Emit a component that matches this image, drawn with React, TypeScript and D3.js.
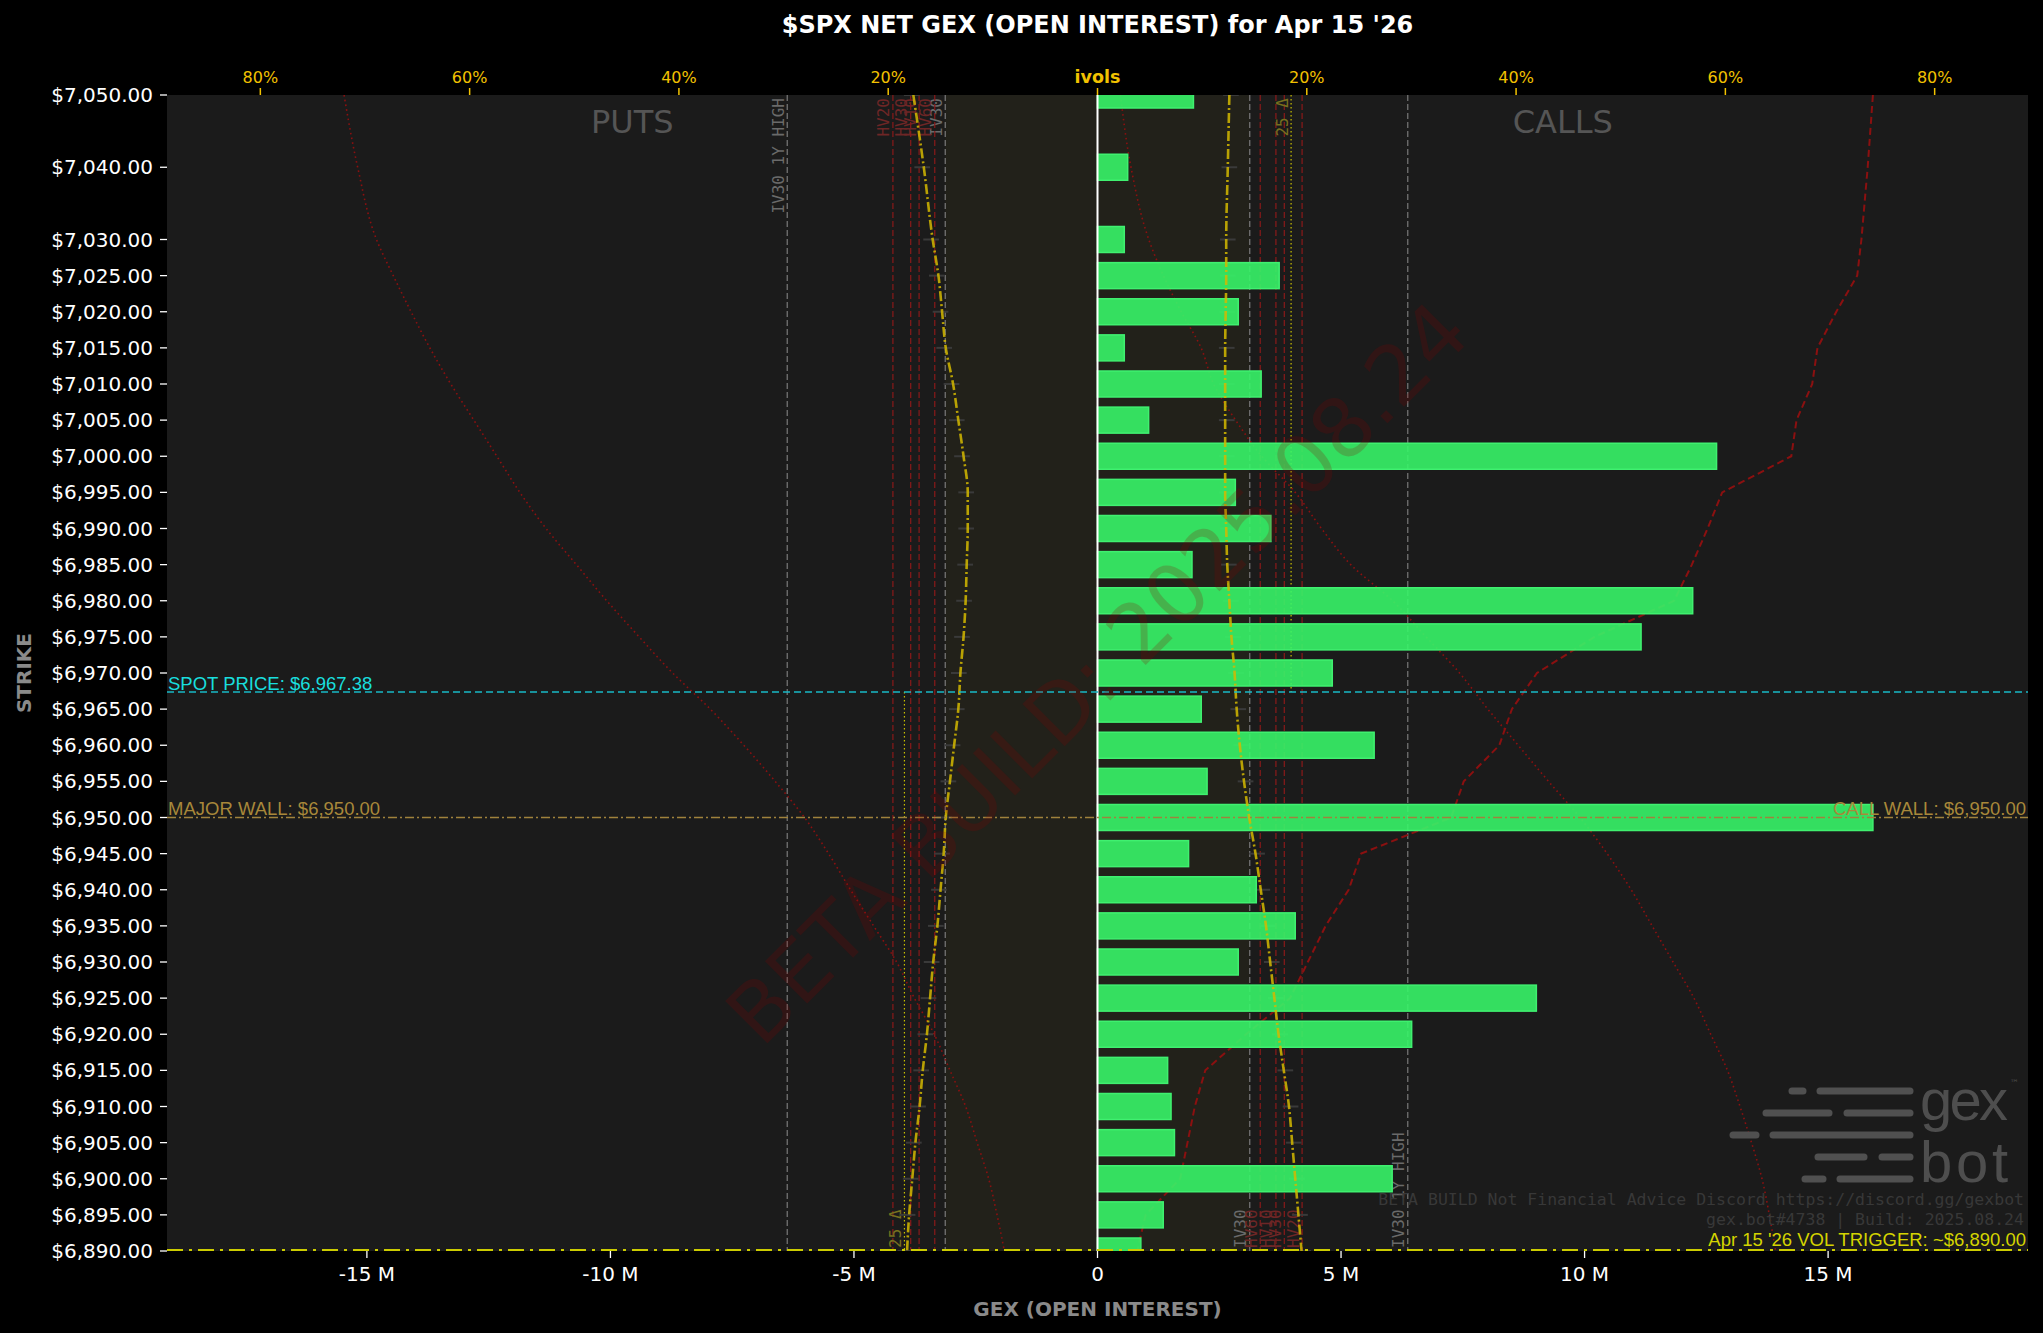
import React, { useEffect, useRef } from "react";
import * as d3 from "d3";

// strikes that carry open interest (7045 / 7035 have none)
const strikes = [
  7050, 7040, 7030, 7025, 7020, 7015, 7010, 7005, 7000, 6995, 6990, 6985, 6980, 6975, 6970, 6965,
  6960, 6955, 6950, 6945, 6940, 6935, 6930, 6925, 6920, 6915, 6910, 6905, 6900, 6895, 6890,
];
// net GEX per strike, millions
const netGex = [
  1.97, 0.62, 0.55, 3.73, 2.89, 0.55, 3.36, 1.05, 12.71, 2.83, 3.56, 1.94, 12.22, 11.16, 4.82, 2.13,
  5.68, 2.25, 15.92, 1.87, 3.26, 4.06, 2.89, 9.01, 6.45, 1.44, 1.51, 1.58, 6.05, 1.35, 0.89,
];
// implied vols (%) per strike
const putIvols = [
  17.6, 16.6, 15.75, 15.2, 14.85, 14.5, 13.8, 13.3, 12.8, 12.4, 12.4, 12.5, 12.6, 12.8, 13.1, 13.3,
  13.7, 14.1, 14.5, 14.7, 15.0, 15.3, 15.7, 16.0, 16.3, 16.7, 17.0, 17.4, 17.7, 18.0, 18.2,
];
const callIvols = [
  12.6, 12.45, 12.3, 12.3, 12.25, 12.2, 12.2, 12.2, 12.2, 12.2, 12.3, 12.4, 12.6, 12.8, 13.1, 13.3,
  13.6, 14.0, 14.5, 15.1, 15.6, 16.1, 16.5, 16.9, 17.3, 17.8, 18.3, 18.6, 18.9, 19.2, 19.5,
];
const putSkew = [
  72.0, 70.7, 68.9, 67.3, 65.6, 63.8, 61.8, 59.6, 57.4, 55.2, 52.7, 49.8, 46.9, 43.8, 40.6, 37.0,
  33.8, 30.8, 28.0, 25.7, 23.6, 21.4, 19.2, 17.5, 15.6, 14.1, 12.6, 11.5, 10.4, 9.6, 8.9,
];
const callSkew = [
  2.2, 3.2, 4.9, 6.3, 8.0, 9.9, 11.1, 13.2, 15.7, 18.9, 21.4, 24.2, 28.2, 31.4, 34.6, 37.3,
  40.2, 43.1, 46.1, 48.7, 51.0, 53.0, 55.0, 57.0, 58.6, 60.2, 61.4, 62.5, 63.5, 64.2, 64.8,
];
const callTerm = [
  74.1, 73.6, 73.0, 72.6, 70.6, 68.8, 68.3, 66.8, 66.3, 59.7, 58.3, 56.8, 55.1, 47.5, 42.0, 39.6,
  38.4, 35.0, 33.8, 25.2, 24.0, 21.8, 20.1, 18.4, 14.2, 10.3, 9.3, 8.6, 7.9, 4.6, 3.8,
];

const refNames = ["IV30", "HV60", "HV10", "HV30", "HV20", "IV30 1Y HIGH"];
const refVols = [14.55, 15.55, 17.05, 17.85, 19.55, 29.65];
const put25Delta = 18.45;
const call25Delta = 18.5;

const spotPrice = 6967.38;
const majorWall = 6950;
const callWall = 6950;
const volTrigger = 6890;

const gexTicks = [-15, -10, -5, 0, 5, 10, 15];
const ivolTicks = [-80, -60, -40, -20, 0, 20, 40, 60, 80];

const W = 2043;
const H = 1333;
const FONT = "'DejaVu Sans', sans-serif";
const MONO = "'DejaVu Sans Mono', monospace";
const LIB = "'Liberation Sans', Arial, sans-serif";

const money = (n: number) => "$" + d3.format(",.2f")(n);

const App = () => {
  const ref = useRef<SVGSVGElement>(null);

  useEffect(() => {
    const svg = d3.select(ref.current);
    svg.selectAll("*").remove();

    const left = 167, right = 2028, top = 95, bottom = 1251;
    const gexMax = 1.2 * (d3.max(netGex, (d) => Math.abs(d)) as number);
    const volMax = 1.2 * (d3.max([...putIvols, ...callIvols, ...putSkew, ...callSkew, ...callTerm]) as number);

    const x = d3.scaleLinear().domain([-gexMax, gexMax]).range([left, right]);
    const v = d3.scaleLinear().domain([-volMax, volMax]).range([left, right]);
    const y = d3.scaleLinear().domain(d3.extent(strikes) as [number, number]).range([bottom, top]);

    svg.append("rect").attr("width", W).attr("height", H).attr("fill", "#000");

    svg.append("defs").append("clipPath").attr("id", "plot")
      .append("rect").attr("x", left).attr("y", top).attr("width", right - left).attr("height", bottom - top);

    const plot = svg.append("g").attr("clip-path", "url(#plot)");
    plot.append("rect").attr("x", left).attr("y", top).attr("width", right - left).attr("height", bottom - top)
      .attr("fill", "#1b1b1b");

    // IV30 band
    plot.append("rect")
      .attr("x", v(-refVols[0])).attr("y", top)
      .attr("width", v(refVols[0]) - v(-refVols[0])).attr("height", bottom - top)
      .attr("fill", "#ffd700").attr("opacity", 0.03);

    // reference vol lines
    refNames.forEach((name, i) => {
      const isHv = name.startsWith("HV");
      const col = isHv ? "#8b1a1a" : "#7a7a7a";
      const txt = isHv ? "#6e2626" : "#6a6a6a";
      [-1, 1].forEach((side) => {
        const xx = v(side * refVols[i]);
        plot.append("line").attr("x1", xx).attr("x2", xx).attr("y1", top).attr("y2", bottom)
          .attr("stroke", col).attr("stroke-width", 1.2).attr("stroke-dasharray", "6,3");
        const ty = side < 0 ? top + 3 : bottom - 3;
        plot.append("text")
          .attr("transform", `translate(${xx - 3.5},${ty}) rotate(-90)`)
          .attr("text-anchor", side < 0 ? "end" : "start")
          .attr("font-family", MONO).attr("font-size", 16).attr("fill", txt)
          .text(name);
      });
    });

    // 25 delta lines
    const xp = v(-put25Delta), xc = v(call25Delta);
    plot.append("line").attr("x1", xp).attr("x2", xp).attr("y1", y(spotPrice)).attr("y2", bottom)
      .attr("stroke", "#c8c000").attr("stroke-width", 1.2).attr("stroke-dasharray", "1.5,2.5");
    plot.append("line").attr("x1", xc).attr("x2", xc).attr("y1", top).attr("y2", y(spotPrice))
      .attr("stroke", "#c8c000").attr("stroke-width", 1.2).attr("stroke-dasharray", "1.5,2.5");
    plot.append("text").attr("transform", `translate(${xp - 3.5},${bottom - 3}) rotate(-90)`)
      .attr("font-family", MONO).attr("font-size", 16).attr("fill", "#76701e").text("25 Δ");
    plot.append("text").attr("transform", `translate(${xc - 3.5},${top + 3}) rotate(-90)`)
      .attr("text-anchor", "end").attr("font-family", MONO).attr("font-size", 16).attr("fill", "#76701e").text("25 Δ");

    // red skew curves
    const idx = d3.range(strikes.length);
    const curve = (vals: number[], side: number) =>
      d3.line<number>().x((i) => v(side * vals[i])).y((i) => y(strikes[i])).curve(d3.curveMonotoneY)(idx);
    plot.append("path").attr("d", curve(putSkew, -1)).attr("fill", "none")
      .attr("stroke", "#8b1010").attr("stroke-width", 1.6).attr("stroke-dasharray", "1.6,3.2");
    plot.append("path").attr("d", curve(callSkew, 1)).attr("fill", "none")
      .attr("stroke", "#8b1010").attr("stroke-width", 1.6).attr("stroke-dasharray", "1.6,3.2");
    plot.append("path")
      .attr("d", d3.line<number>().x((i) => v(callTerm[i])).y((i) => y(strikes[i]))(idx))
      .attr("fill", "none").attr("stroke", "#8b1010").attr("stroke-width", 2).attr("stroke-dasharray", "7,4");

    // ivol bid/ask ticks (behind the bars)
    const ivolSides = [
      { vals: putIvols, side: -1 },
      { vals: callIvols, side: 1 },
    ];
    ivolSides.forEach(({ vals, side }) => {
      plot.selectAll(null).data(idx).enter().append("line")
        .attr("x1", (i) => v(side * (vals[i] - 0.6))).attr("x2", (i) => v(side * (vals[i] + 0.9)))
        .attr("y1", (i) => y(strikes[i])).attr("y2", (i) => y(strikes[i]))
        .attr("stroke", "#3a3a3a").attr("stroke-width", 2);
    });

    // bars
    const barH = Math.abs(y(0) - y(3.6));
    plot.selectAll("rect.bar").data(idx).enter().append("rect")
      .attr("class", "bar")
      .attr("x", (i) => Math.min(x(0), x(netGex[i])))
      .attr("y", (i) => y(strikes[i]) - barH / 2)
      .attr("width", (i) => Math.abs(x(netGex[i]) - x(0)))
      .attr("height", barH)
      .attr("fill", "#37f468").attr("fill-opacity", 0.9)
      .attr("stroke", "#40f070").attr("stroke-width", 1.5);

    // ivol curves
    ivolSides.forEach(({ vals, side }) => {
      plot.append("path").attr("d", curve(vals, side)).attr("fill", "none")
        .attr("stroke", "#d4b800").attr("stroke-opacity", 0.85)
        .attr("stroke-width", 2.6).attr("stroke-dasharray", "10,3,2,3");
    });

    // zero line
    plot.append("line").attr("x1", x(0)).attr("x2", x(0)).attr("y1", top).attr("y2", bottom)
      .attr("stroke", "#fff").attr("stroke-width", 2);

    // horizontal levels
    plot.append("line").attr("x1", left).attr("x2", right).attr("y1", y(spotPrice)).attr("y2", y(spotPrice))
      .attr("stroke", "#19b9c6").attr("stroke-width", 1.6).attr("stroke-dasharray", "7,4");
    plot.append("line").attr("x1", left).attr("x2", right).attr("y1", y(majorWall)).attr("y2", y(majorWall))
      .attr("stroke", "#a0823c").attr("stroke-width", 1.6).attr("stroke-dasharray", "9,3,2,3");
    plot.append("line").attr("x1", left).attr("x2", right).attr("y1", y(volTrigger)).attr("y2", y(volTrigger))
      .attr("stroke", "#cccc00").attr("stroke-width", 4).attr("stroke-dasharray", "16,6,3,6");

    plot.append("text").attr("x", left + 1).attr("y", y(spotPrice) - 2)
      .attr("font-family", LIB).attr("font-size", 18.5).attr("fill", "#19dede")
      .text(`SPOT PRICE: ${money(spotPrice)}`);
    plot.append("text").attr("x", left + 1).attr("y", y(majorWall) - 3)
      .attr("font-family", LIB).attr("font-size", 18.5).attr("fill", "#a8883a")
      .text(`MAJOR WALL: ${money(majorWall)}`);
    plot.append("text").attr("x", right - 2).attr("y", y(callWall) - 3).attr("text-anchor", "end")
      .attr("font-family", LIB).attr("font-size", 18.5).attr("fill", "#a8883a")
      .text(`CALL WALL: ${money(callWall)}`);

    // PUTS / CALLS
    plot.append("text").attr("x", left + (right - left) * 0.25).attr("y", top + 38).attr("text-anchor", "middle")
      .attr("font-family", FONT).attr("font-size", 32).attr("fill", "#555").text("PUTS");
    plot.append("text").attr("x", left + (right - left) * 0.75).attr("y", top + 38).attr("text-anchor", "middle")
      .attr("font-family", FONT).attr("font-size", 32).attr("fill", "#555").text("CALLS");

    // logo
    const logo = plot.append("g").attr("stroke", "#505050").attr("stroke-width", 7).attr("stroke-linecap", "round");
    [
      [1091, 1792, 1803], [1091, 1820, 1910],
      [1113, 1766, 1829], [1113, 1847, 1910],
      [1135, 1733, 1756], [1135, 1773, 1910],
      [1157, 1818, 1864], [1157, 1882, 1910],
      [1179, 1805, 1823], [1179, 1840, 1910],
    ].forEach(([ly, a, b]) => logo.append("line").attr("x1", a).attr("x2", b).attr("y1", ly).attr("y2", ly));
    plot.append("text").attr("x", 1920).attr("y", 1120).attr("font-family", LIB).attr("font-size", 58)
      .attr("fill", "#4e4e4e").attr("textLength", 88).text("gex");
    plot.append("text").attr("x", 1920).attr("y", 1182).attr("font-family", LIB).attr("font-size", 58)
      .attr("fill", "#4e4e4e").attr("textLength", 88).text("bot");
    plot.append("text").attr("x", 2010).attr("y", 1086).attr("font-family", FONT).attr("font-size", 9)
      .attr("fill", "#4e4e4e").text("™");

    plot.append("text").attr("x", right - 4).attr("y", 1205).attr("text-anchor", "end")
      .attr("font-family", MONO).attr("font-size", 16.5).attr("fill", "#383838")
      .text("BETA BUILD Not Financial Advice Discord https://discord.gg/gexbot");
    plot.append("text").attr("x", right - 4).attr("y", 1225).attr("text-anchor", "end")
      .attr("font-family", MONO).attr("font-size", 16.5).attr("fill", "#383838")
      .text("gex.bot#4738 | Build: 2025.08.24");

    plot.append("text").attr("x", right - 2).attr("y", y(volTrigger) - 5).attr("text-anchor", "end")
      .attr("font-family", LIB).attr("font-size", 18.5).attr("fill", "#d4d400")
      .text(`Apr 15 '26 VOL TRIGGER: ~${money(volTrigger)}`);

    // watermark
    svg.append("text")
      .attr("transform", `translate(${(left + right) / 2},${(top + bottom) / 2}) rotate(-45)`)
      .attr("text-anchor", "middle").attr("dominant-baseline", "central")
      .attr("font-family", FONT).attr("font-size", 82).attr("fill", "#8b0000").attr("opacity", 0.2)
      .text("BETA BUILD: 2025.08.24");

    // y axis
    const ya = svg.append("g");
    strikes.forEach((s) => {
      ya.append("line").attr("x1", left - 7).attr("x2", left).attr("y1", y(s)).attr("y2", y(s))
        .attr("stroke", "#fff").attr("stroke-width", 1.3);
      ya.append("text").attr("x", left - 14).attr("y", y(s)).attr("text-anchor", "end")
        .attr("dominant-baseline", "central").attr("font-family", FONT).attr("font-size", 20)
        .attr("fill", "#fff").text(money(s));
    });
    svg.append("text").attr("transform", `translate(31,${(top + bottom) / 2}) rotate(-90)`)
      .attr("text-anchor", "middle").attr("font-family", FONT).attr("font-weight", "bold")
      .attr("font-size", 20).attr("fill", "#8a8a8a").text("STRIKE");

    // x axis
    gexTicks.forEach((t) => {
      svg.append("line").attr("x1", x(t)).attr("x2", x(t)).attr("y1", bottom).attr("y2", bottom + 7)
        .attr("stroke", "#fff").attr("stroke-width", 1.3);
      svg.append("text").attr("x", x(t)).attr("y", bottom + 30).attr("text-anchor", "middle")
        .attr("font-family", FONT).attr("font-size", 20).attr("fill", "#fff")
        .text(t === 0 ? "0" : `${t} M`);
    });
    svg.append("text").attr("x", (left + right) / 2).attr("y", 1316).attr("text-anchor", "middle")
      .attr("font-family", FONT).attr("font-weight", "bold").attr("font-size", 20).attr("fill", "#8a8a8a")
      .text("GEX (OPEN INTEREST)");

    // top ivol axis
    ivolTicks.forEach((t) => {
      svg.append("line").attr("x1", v(t)).attr("x2", v(t)).attr("y1", top).attr("y2", top - 7)
        .attr("stroke", "#f2c200").attr("stroke-width", 1.5);
      svg.append("text").attr("x", v(t)).attr("y", top - 12).attr("text-anchor", "middle")
        .attr("font-family", FONT).attr("font-size", t === 0 ? 17.5 : 16)
        .attr("font-weight", t === 0 ? "bold" : "normal").attr("fill", "#f2c200")
        .text(t === 0 ? "ivols" : `${Math.abs(t)}%`);
    });

    svg.append("text").attr("x", (left + right) / 2).attr("y", 33).attr("text-anchor", "middle")
      .attr("font-family", FONT).attr("font-weight", "bold").attr("font-size", 24).attr("fill", "#fff")
      .text("$SPX NET GEX (OPEN INTEREST) for Apr 15 '26");
  }, []);

  return (
    <svg
      ref={ref}
      width={W}
      height={H}
      style={{ position: "absolute", left: 0, top: 0, display: "block", background: "#000" }}
    />
  );
};

export default App;
